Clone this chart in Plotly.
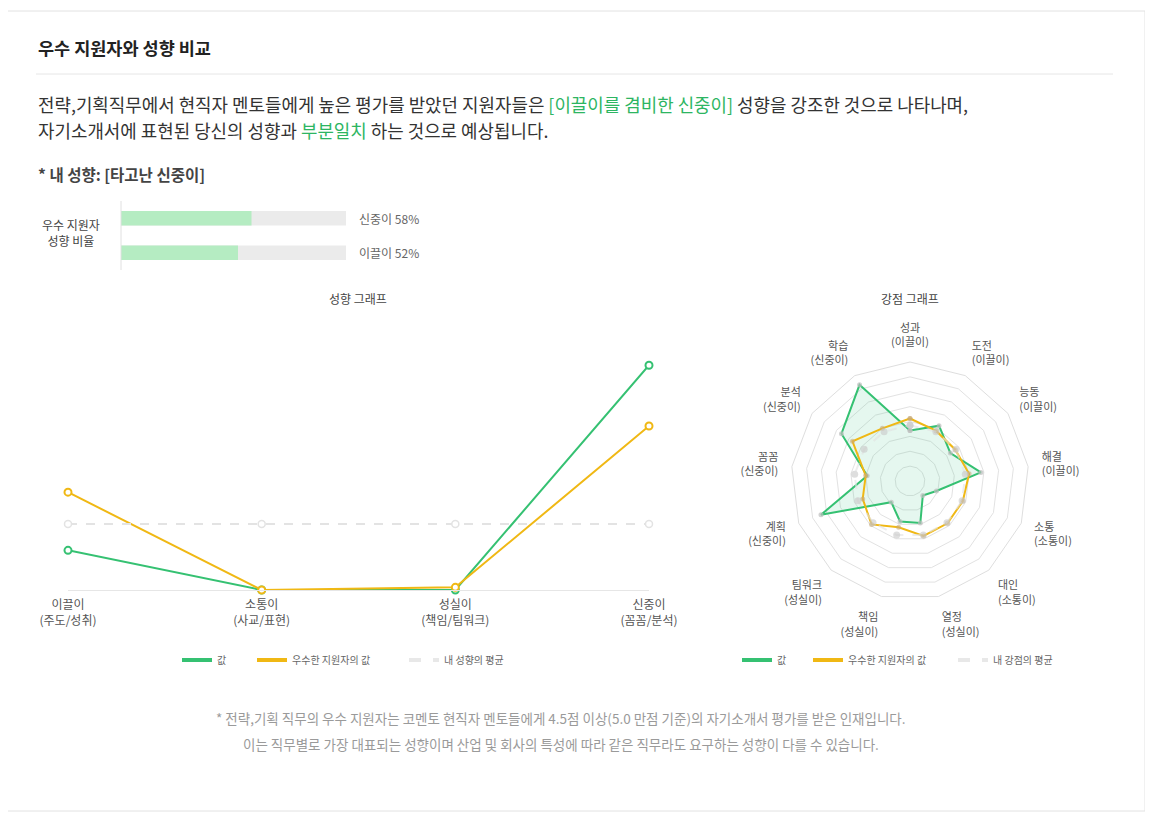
import plotly.graph_objects as go

# 페이지 기본 여백(8px)을 빼고 그린다
OFF = 8
W, H = 1153 - OFF, 818 - OFF
FONT = "Noto Sans CJK KR"

GREEN = "#35c172"
ORANGE = "#f0b814"
GREY = "#e3e3e3"

# 성향 비율 막대
ratio_labels = ["신중이", "이끌이"]
ratio_values = [58, 52]

# 성향 그래프
trait_labels = ["이끌이<br>(주도/성취)", "소통이<br>(사교/표현)", "성실이<br>(책임/팀워크)", "신중이<br>(꼼꼼/분석)"]
trait_mine = [15, 0, 0, 85]
trait_best = [37, 0, 1, 62]

# 강점 그래프
strength_labels = ["성과<br>(이끌이)", "도전<br>(이끌이)", "능동<br>(이끌이)", "해결<br>(이끌이)",
                   "소통<br>(소통이)", "대인<br>(소통이)", "열정<br>(성실이)", "책임<br>(성실이)",
                   "팀워크<br>(성실이)", "계획<br>(신중이)", "꼼꼼<br>(신중이)", "분석<br>(신중이)",
                   "학습<br>(신중이)"]
strength_mine = [34, 42, 33, 48, 19, 13, 29, 28, 19, 64, 29, 56, 73]
strength_best = [42, 38, 37, 40, 38, 38, 38, 32, 39, 34, 30, 47, 40]

line_legend_names = ["값", "우수한 지원자의 값", "내 성향의 평균"]
radar_legend_names = ["값", "우수한 지원자의 값", "내 강점의 평균"]


def px(x):
    return (x - OFF) / W


def py(y):
    return 1 - (y - OFF) / H


fig = go.Figure()

# --- 막대 (우수 지원자 성향 비율)
fig.add_trace(go.Bar(
    x=[100] * len(ratio_labels), y=ratio_labels, orientation="h",
    marker=dict(color="#ebebeb"), width=0.42, xaxis="x3", yaxis="y3",
    showlegend=False, hoverinfo="skip"))
fig.add_trace(go.Bar(
    x=ratio_values, y=ratio_labels, orientation="h",
    marker=dict(color="#b5ecc2"), width=0.42, xaxis="x3", yaxis="y3",
    showlegend=False))

# --- 성향 그래프
xs = list(range(len(trait_labels)))
mine_avg = sum(trait_mine) / len(trait_mine)
fig.add_trace(go.Scatter(
    x=xs, y=trait_mine, mode="lines+markers", name="값",
    line=dict(color=GREEN, width=2),
    marker=dict(size=7, color="white", line=dict(color=GREEN, width=2)),
    cliponaxis=False, showlegend=False))
fig.add_trace(go.Scatter(
    x=xs, y=trait_best, mode="lines+markers", name="우수한 지원자의 값",
    line=dict(color=ORANGE, width=2),
    marker=dict(size=7, color="white", line=dict(color=ORANGE, width=2)),
    cliponaxis=False, showlegend=False))
fig.add_trace(go.Scatter(
    x=xs, y=[mine_avg] * len(xs), mode="lines+markers", name="내 성향의 평균",
    line=dict(color=GREY, width=2, dash="dash"),
    marker=dict(size=7, color="white", line=dict(color=GREY, width=1.5)),
    cliponaxis=False, showlegend=False))

# --- 강점 그래프
theta = strength_labels + strength_labels[:1]
s_avg = sum(strength_mine) / len(strength_mine)
fig.add_trace(go.Scatterpolar(
    r=strength_mine + strength_mine[:1], theta=theta, mode="lines+markers", name="값",
    line=dict(color=GREEN, width=2), fill="toself", fillcolor="rgba(53,193,130,0.13)",
    marker=dict(size=5, color="rgba(190,190,190,0.7)"),
    subplot="polar", showlegend=False))
fig.add_trace(go.Scatterpolar(
    r=strength_best + strength_best[:1], theta=theta, mode="lines+markers",
    name="우수한 지원자의 값",
    line=dict(color=ORANGE, width=2),
    marker=dict(size=5, color="rgba(200,170,120,0.6)"),
    subplot="polar", showlegend=False))
fig.add_trace(go.Scatterpolar(
    r=[s_avg] * len(theta), theta=theta, mode="lines+markers", name="내 강점의 평균",
    line=dict(color="rgba(225,225,225,0.6)", width=2, dash="dash"),
    marker=dict(size=7, color="rgba(200,200,200,0.6)"),
    subplot="polar", showlegend=False))

# --- 범례 (선 모양만 보이도록 별도 항목)
legend_styles = [dict(color=GREEN, width=4), dict(color=ORANGE, width=4),
                 dict(color="#e8e8e8", width=4, dash="dash")]
for i, (nm, st) in enumerate(zip(line_legend_names, legend_styles)):
    fig.add_trace(go.Scatter(x=[None], y=[None], mode="lines", name=nm, line=st,
                             legend="legend" if i == 0 else f"legend{i + 1}"))
for i, (nm, st) in enumerate(zip(radar_legend_names, legend_styles)):
    fig.add_trace(go.Scatterpolar(r=[None], theta=[strength_labels[0]], mode="lines", name=nm,
                                  line=st, subplot="polar", legend=f"legend{i + 4}"))

axis_font = dict(family=FONT, size=12, color="#555")
small_font = dict(family=FONT, size=10, color="#666")

legend_x = [180, 255, 407, 740, 811, 956]
legends = {}
for i, lx in enumerate(legend_x):
    key = "legend" if i == 0 else f"legend{i + 1}"
    legends[key] = dict(orientation="h", x=px(lx - 3), y=py(660), xanchor="left",
                        yanchor="middle", font=small_font, itemwidth=30,
                        bgcolor="rgba(0,0,0,0)", borderwidth=0)

fig.update_layout(
    template="none",
    width=W, height=H, margin=dict(l=0, r=0, t=0, b=0, autoexpand=False),
    paper_bgcolor="white", plot_bgcolor="white",
    font=dict(family=FONT, color="#333"),
    barmode="overlay",
    xaxis=dict(domain=[px(68), px(649)], range=[0, 3], tickvals=xs, ticktext=trait_labels,
               tickfont=axis_font, showgrid=False, zeroline=False, automargin=False,
               showline=True, linecolor="#e6e6e6", linewidth=1, ticks="",
               ticklabelstandoff=4),
    yaxis=dict(domain=[py(590), py(352)], range=[0, 90], visible=False, showgrid=False,
               automargin=False),
    xaxis3=dict(domain=[px(121), px(346)], range=[0, 100], visible=False, automargin=False),
    yaxis3=dict(domain=[py(270), py(201)], range=[1.5, -0.5], visible=False, automargin=False),
    polar=dict(
        domain=dict(x=[px(910 - 119), px(910 + 119)], y=[py(481 + 119), py(481 - 119)]),
        gridshape="linear", bgcolor="white",
        angularaxis=dict(rotation=90, direction="clockwise",
                         tickfont=dict(family=FONT, size=11, color="#555"),
                         showgrid=False, linecolor="#dedede",
                         ticks="outside", ticklen=11, tickcolor="rgba(0,0,0,0)"),
        radialaxis=dict(range=[0, 80], dtick=10, showticklabels=False, ticks="",
                        showline=False, gridcolor="#e2e2e2"),
    ),
    **legends,
)

shapes = [
    dict(type="rect", xref="paper", yref="paper", x0=px(5), x1=px(1145), y0=py(811), y1=py(11),
         line=dict(color="#e2e2e2", width=1)),
    dict(type="line", xref="paper", yref="paper", x0=px(36), x1=px(1113), y0=py(74), y1=py(74),
         line=dict(color="#e6e6e6", width=1)),
    dict(type="line", xref="paper", yref="paper", x0=px(121), x1=px(121), y0=py(201), y1=py(270),
         line=dict(color="#e0e0e0", width=1)),
]
fig.update_layout(shapes=shapes)

hl = "<span style='color:#2db562'>%s</span>"
annotations = [
    dict(text="<b>우수 지원자와 성향 비교</b>", x=px(36), y=py(47),
         font=dict(family=FONT, size=17.5, color="#222")),
    dict(text="전략,기획직무에서 현직자 멘토들에게 높은 평가를 받았던 지원자들은 "
              + hl % "[이끌이를 겸비한 신중이]" + " 성향을 강조한 것으로 나타나며,",
         x=px(36), y=py(104), font=dict(family=FONT, size=17.9, color="#333")),
    dict(text="자기소개서에 표현된 당신의 성향과 " + hl % "부분일치" + " 하는 것으로 예상됩니다.",
         x=px(36), y=py(130), font=dict(family=FONT, size=17.9, color="#333")),
    dict(text="<b>* 내 성향: [타고난 신중이]</b>", x=px(36), y=py(174),
         font=dict(family=FONT, size=15.5, color="#444")),
    dict(text="우수 지원자<br>성향 비율", x=px(71), y=py(232), xanchor="center",
         font=dict(family=FONT, size=12, color="#444")),
    dict(text="성향 그래프", x=px(358), y=py(298), xanchor="center",
         font=dict(family=FONT, size=12, color="#444")),
    dict(text="강점 그래프", x=px(910), y=py(298), xanchor="center",
         font=dict(family=FONT, size=12, color="#444")),
    dict(text="* 전략,기획 직무의 우수 지원자는 코멘토 현직자 멘토들에게 4.5점 이상(5.0 만점 기준)의 자기소개서 평가를 받은 인재입니다.",
         x=px(561), y=py(718), xanchor="center", font=dict(family=FONT, size=13.5, color="#9a9a9a")),
    dict(text="이는 직무별로 가장 대표되는 성향이며 산업 및 회사의 특성에 따라 같은 직무라도 요구하는 성향이 다를 수 있습니다.",
         x=px(561), y=py(744), xanchor="center", font=dict(family=FONT, size=13.5, color="#9a9a9a")),
]
for a in annotations:
    a.setdefault("xanchor", "left")
    a.update(xref="paper", yref="paper", yanchor="middle", showarrow=False, align="center")

for lab, val in zip(ratio_labels, ratio_values):
    annotations.append(dict(text=f"{lab} {val}%", xref="x3", yref="y3", x=100, y=lab,
                            xanchor="left", yanchor="middle", xshift=11, showarrow=False,
                            font=dict(family=FONT, size=12, color="#666")))

fig.update_layout(annotations=annotations)

fig.write_html("out.html")
